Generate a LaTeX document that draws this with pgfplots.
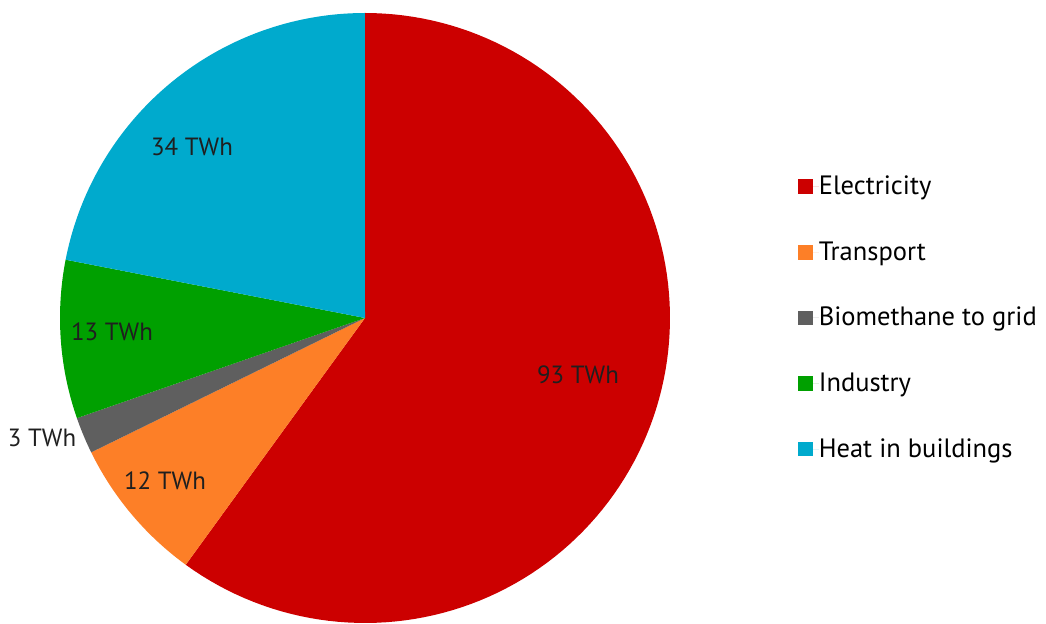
\documentclass[border=0pt]{standalone}
\usepackage{pgfplots}
\pgfplotsset{compat=1.18}
\usepackage{fontspec}
\setmainfont{PT Sans}
\definecolor{elec}{HTML}{CC0000}
\definecolor{trans}{HTML}{FD7F27}
\definecolor{biom}{HTML}{5F5F5F}
\definecolor{indu}{HTML}{00A000}
\definecolor{heat}{HTML}{00AACD}
% values (TWh)
\def\vA{93}\def\vB{12}\def\vC{3}\def\vD{13}\def\vE{34}
\pgfmathsetmacro{\tot}{\vA+\vB+\vC+\vD+\vE}
\pgfmathsetmacro{\aA}{90}
\pgfmathsetmacro{\aB}{\aA-\vA/\tot*360}
\pgfmathsetmacro{\aC}{\aB-\vB/\tot*360}
\pgfmathsetmacro{\aD}{\aC-\vC/\tot*360}
\pgfmathsetmacro{\aE}{\aD-\vD/\tot*360}
\pgfmathsetmacro{\aF}{\aE-\vE/\tot*360}
\def\R{305}
\begin{document}
\begin{tikzpicture}
\begin{axis}[
  x=0.5bp, y=0.5bp,
  xmin=-365, xmax=681, ymin=-306, ymax=318,
  hide axis, clip=false,
  font=\fontsize{12.5}{15}\selectfont,
  legend style={at={(axis cs:433,0)}, anchor=west, draw=none, fill=none,
    inner sep=0pt, row sep=20bp, font=\fontsize{13.3}{16}\selectfont,
    nodes={inner xsep=0bp, inner ysep=1bp}},
  legend cell align=left,
  legend image code/.code={\fill[#1] (0bp,-3.6bp) rectangle (7.2bp,3.6bp); \path (0bp,0bp) -- (10.2bp,0bp);},
  samples=120,
]
\path (axis cs:-365,-306) rectangle (axis cs:681,318);
\addplot[fill=elec, draw=none, domain=\aA:\aB, variable=\t] ({\R*cos(\t)},{\R*sin(\t)}) -- (0,0) -- cycle;
\addlegendentry{Electricity}
\addplot[fill=trans, draw=none, domain=\aB:\aC, variable=\t, samples=40] ({\R*cos(\t)},{\R*sin(\t)}) -- (0,0) -- cycle;
\addlegendentry{Transport}
\addplot[fill=biom, draw=none, domain=\aC:\aD, variable=\t, samples=20] ({\R*cos(\t)},{\R*sin(\t)}) -- (0,0) -- cycle;
\addlegendentry{Biomethane to grid}
\addplot[fill=indu, draw=none, domain=\aD:\aE, variable=\t, samples=40] ({\R*cos(\t)},{\R*sin(\t)}) -- (0,0) -- cycle;
\addlegendentry{Industry}
\addplot[fill=heat, draw=none, domain=\aE:\aF, variable=\t, samples=80] ({\R*cos(\t)},{\R*sin(\t)}) -- (0,0) -- cycle;
\addlegendentry{Heat in buildings}
\node[text=black!88] at (axis cs:213,-57) {93 TWh};
\node[text=black!88] at (axis cs:-173,171) {34 TWh};
\node[text=black!88] at (axis cs:-253,-14) {13 TWh};
\node[text=black!88] at (axis cs:-323,-120) {3 TWh};
\node[text=black!88] at (axis cs:-200,-163) {12 TWh};
\end{axis}
\end{tikzpicture}
\end{document}
